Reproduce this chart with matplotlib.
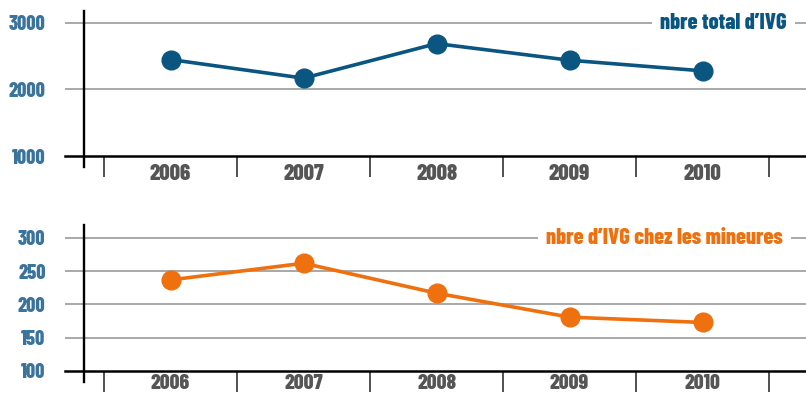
import matplotlib
matplotlib.use("Agg")
import matplotlib.pyplot as plt
import matplotlib.transforms as mtransforms
import numpy as np

# IVG counts per year
years = ["2006", "2007", "2008", "2009", "2010"]
total_ivg = [2450, 2170, 2690, 2440, 2280]
minors_ivg = [237, 262, 217, 181, 173]

total_ticks = [1000, 2000, 3000]
minors_ticks = [100, 150, 200, 250, 300]

total_label = "nbre total d\u2019IVG"
minors_label = "nbre d\u2019IVG chez les mineures"

BLUE = "#0b5681"
ORANGE = "#ee700f"
TICK_BLUE = "#3a739b"
GREY_TXT = "#555555"
GRID = "#999999"
FONT = "Barlow Condensed"
WEIGHT = 800

fig = plt.figure(figsize=(8.06, 3.96), dpi=100)
W, H = 806, 396


def make_axes(top_px, bottom_px):
    return fig.add_axes([65 / W, (H - bottom_px) / H, 741 / W, (bottom_px - top_px) / H])


def style_panel(ax, ticks, ylim, color, label, label_x, xpad=6, xsize=16.5):
    x = np.arange(len(years))
    ax.set_xlim(-0.794, 4.778)
    ax.set_ylim(*ylim)

    for t in ticks[1:]:
        ax.axhline(t, color=GRID, lw=1.2, zorder=1)

    for s in ("top", "right", "left"):
        ax.spines[s].set_visible(False)
    ax.spines["bottom"].set_linewidth(1.8)
    ax.spines["bottom"].set_color("black")

    # vertical axis line, running a little below the baseline
    ax.axvline(-0.65, ymin=-0.075, ymax=1, color="black", lw=1.7, clip_on=False, zorder=3)

    ax.set_yticks(ticks)
    ax.set_yticklabels([str(t) for t in ticks], fontfamily=FONT, fontweight=WEIGHT,
                       fontsize=14.5, color=TICK_BLUE)
    ax.tick_params(axis="y", length=0, pad=14)

    ax.set_xticks(x)
    ax.set_xticklabels(years, fontfamily=FONT, fontweight=WEIGHT, fontsize=xsize, color=GREY_TXT)
    ax.set_xticks(np.arange(-0.5, len(years), 1), minor=True)
    ax.tick_params(axis="x", which="major", length=0, pad=xpad)
    ax.tick_params(axis="x", which="minor", length=15, width=1.1, color="#222222", direction="out")

    trans = mtransforms.blended_transform_factory(ax.transAxes, ax.transData)
    ax.text(label_x, ticks[-1], label, transform=trans, ha="right", va="center",
            fontfamily=FONT, fontweight=WEIGHT, fontsize=16, color=color,
            bbox=dict(facecolor="white", edgecolor="none", pad=6), zorder=4)


ax1 = make_axes(11, 156)
ax1.plot(range(len(years)), total_ivg, color=BLUE, lw=2.6, marker="o", ms=13.5, zorder=5)
style_panel(ax1, total_ticks, (1000, 3180), BLUE, total_label, 0.974)

ax2 = make_axes(225, 371)
ax2.plot(range(len(years)), minors_ivg, color=ORANGE, lw=2.6, marker="o", ms=13.5, zorder=5)
style_panel(ax2, minors_ticks, (100, 319.5), ORANGE, minors_label, 0.969, xpad=2.5, xsize=15.5)

fig.savefig("out.png", dpi=100)
